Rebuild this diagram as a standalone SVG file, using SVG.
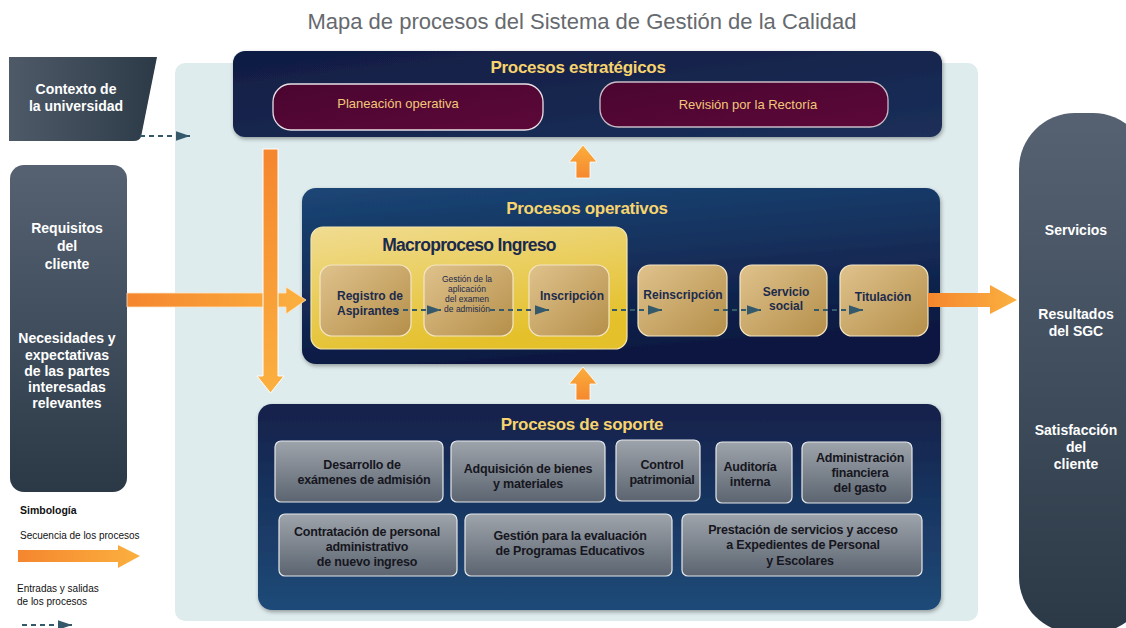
<svg xmlns="http://www.w3.org/2000/svg" width="1126" height="628" viewBox="0 0 1126 628">
<defs>
<linearGradient id="ctxG" x1="0" y1="0" x2="1" y2="0"><stop offset="0" stop-color="#4f5a68"/><stop offset="1" stop-color="#2c3a47"/></linearGradient>
<linearGradient id="sideG" x1="0" y1="0" x2="0" y2="1"><stop offset="0" stop-color="#566272"/><stop offset="1" stop-color="#2b3947"/></linearGradient>
<linearGradient id="stratG" x1="0" y1="0" x2="1" y2="1"><stop offset="0" stop-color="#101c42"/><stop offset="1" stop-color="#1b305a"/></linearGradient>
<linearGradient id="opG" x1="0" y1="0" x2="0.3" y2="1"><stop offset="0" stop-color="#1b4676"/><stop offset="1" stop-color="#0d1840"/></linearGradient>
<linearGradient id="supG" x1="0" y1="0" x2="0" y2="1"><stop offset="0" stop-color="#12214a"/><stop offset="1" stop-color="#1f4a78"/></linearGradient>
<linearGradient id="marG" x1="0" y1="0" x2="1" y2="1"><stop offset="0" stop-color="#4a0530"/><stop offset="1" stop-color="#5c0838"/></linearGradient>
<linearGradient id="macG" x1="0" y1="0" x2="0.4" y2="1"><stop offset="0" stop-color="#f0dc92"/><stop offset="1" stop-color="#e4c02a"/></linearGradient>
<linearGradient id="tanG" x1="0" y1="0" x2="1" y2="1"><stop offset="0" stop-color="#dfc28c"/><stop offset="1" stop-color="#b58f4a"/></linearGradient>
<linearGradient id="grayG" x1="0" y1="0" x2="0" y2="1"><stop offset="0" stop-color="#9ea4ab"/><stop offset="1" stop-color="#5b6470"/></linearGradient>
<linearGradient id="orH" x1="0" y1="0" x2="1" y2="0"><stop offset="0" stop-color="#f5862e"/><stop offset="1" stop-color="#fbb03f"/></linearGradient>
<linearGradient id="orV" x1="0" y1="0" x2="0" y2="1"><stop offset="0" stop-color="#f5862e"/><stop offset="1" stop-color="#fbb03f"/></linearGradient>
<linearGradient id="orUp" x1="0" y1="0" x2="0" y2="1"><stop offset="0" stop-color="#fbae3c"/><stop offset="1" stop-color="#f5882e"/></linearGradient>
<marker id="dh" viewBox="0 0 10 10" refX="10" refY="5" markerWidth="6.5" markerHeight="4.5" markerUnits="strokeWidth" orient="auto" preserveAspectRatio="none"><path d="M0,0 L10,5 L0,10 z" fill="#34596a"/></marker>
<filter id="sh" x="-5%" y="-10%" width="110%" height="125%"><feDropShadow dx="1" dy="2" stdDeviation="2" flood-color="#000" flood-opacity="0.35"/></filter>
<style>
text{font-family:"Liberation Sans",Arial,sans-serif;text-anchor:middle}
.wt{fill:#ffffff;font-weight:bold;font-size:14px}
.yt{fill:#f7d46e;font-weight:bold;font-size:17px;letter-spacing:-0.3px}
.mt{fill:#f2c878;font-size:13px}
.nt{fill:#1c2b4c;font-weight:bold;font-size:12px}
.st{fill:#16161e;font-weight:bold;font-size:12.5px;letter-spacing:-0.2px}
.sub{stroke:#f4e6c4;stroke-width:1.2}
.gb{fill:url(#grayG);stroke:#e6e8ea;stroke-width:1.2}
.dash{fill:none;stroke:#34596a;stroke-width:2.2;stroke-dasharray:5,4;marker-end:url(#dh)}
.lg{fill:#111;font-size:10px;text-anchor:start}
</style>
</defs>
<rect width="1126" height="628" fill="#ffffff"/>
<text x="582" y="29" style="font-size:22px;fill:#666a6e">Mapa de procesos del Sistema de Gestión de la Calidad</text>
<rect id="panel" x="175" y="63" width="803" height="558" rx="10" fill="#dfeced"/>

<g id="contexto">
<path d="M9,57 L157,57 L141,137 Q139,141 134,141 L9,141 Z" fill="url(#ctxG)"/>
<text class="wt" x="76" y="94">Contexto de</text>
<text class="wt" x="76" y="111">la universidad</text>
</g>

<g id="requisitos">
<rect x="10" y="165" width="117" height="327" rx="14" fill="url(#sideG)"/>
<text class="wt" x="67" y="233">Requisitos</text>
<text class="wt" x="67" y="251">del</text>
<text class="wt" x="67" y="269">cliente</text>
<text class="wt" x="67" y="343">Necesidades y</text>
<text class="wt" x="67" y="360">expectativas</text>
<text class="wt" x="67" y="376">de las partes</text>
<text class="wt" x="67" y="392">interesadas</text>
<text class="wt" x="67" y="408">relevantes</text>
</g>

<g id="resultados">
<rect x="1019" y="113" width="130" height="520" rx="56" fill="url(#sideG)"/>
<text class="wt" x="1076" y="235">Servicios</text>
<text class="wt" x="1076" y="319">Resultados</text>
<text class="wt" x="1076" y="336">del SGC</text>
<text class="wt" x="1076" y="435">Satisfacción</text>
<text class="wt" x="1076" y="452">del</text>
<text class="wt" x="1076" y="469">cliente</text>
</g>

<g id="estrategicos">
<rect x="233" y="51" width="709" height="86" rx="12" fill="url(#stratG)" filter="url(#sh)"/>
<text class="yt" x="578" y="73">Procesos estratégicos</text>
<g id="planeacion">
<rect x="273" y="84" width="270" height="46" rx="18" fill="url(#marG)" stroke="#e8e0e6" stroke-width="1.3"/>
<text class="mt" x="398" y="108">Planeación operativa</text>
</g>
<g id="revision">
<rect x="600" y="82" width="288" height="45" rx="18" fill="url(#marG)" stroke="#c8bcc6" stroke-width="1.3"/>
<text class="mt" x="748" y="109">Revisión por la Rectoría</text>
</g>
</g>

<g id="operativos">
<rect x="302" y="188" width="638" height="176" rx="14" fill="url(#opG)" filter="url(#sh)"/>
<text class="yt" x="587" y="214">Procesos operativos</text>
</g>

<g id="macroproceso">
<rect x="311" y="227" width="316" height="122" rx="12" fill="url(#macG)" stroke="#f3e6b0" stroke-width="1.2"/>
<text x="469" y="251" style="fill:#1c2b4c;font-weight:bold;font-size:17.5px;letter-spacing:-0.7px">Macroproceso Ingreso</text>
</g>
<g id="registro">
<rect class="sub" x="320" y="265" width="91" height="71" rx="12" fill="url(#tanG)"/>
<text class="nt" x="370" y="300">Registro  de</text>
<text class="nt" x="368" y="315">Aspirantes</text>
</g>
<g id="gestion">
<rect class="sub" x="424" y="265" width="89" height="71" rx="12" fill="url(#tanG)"/>
<text class="nt" x="467" y="282" style="font-size:8.5px;font-weight:normal">Gestión de la</text>
<text class="nt" x="467" y="292" style="font-size:8.5px;font-weight:normal">aplicación</text>
<text class="nt" x="467" y="302" style="font-size:8.5px;font-weight:normal">del examen</text>
<text class="nt" x="467" y="312" style="font-size:8.5px;font-weight:normal">de admisión</text>
</g>
<g id="inscripcion">
<rect class="sub" x="529" y="265" width="80" height="71" rx="12" fill="url(#tanG)"/>
<text class="nt" x="572" y="300">Inscripción</text>
</g>
<g id="reinscripcion">
<rect class="sub" x="638" y="265" width="89" height="71" rx="12" fill="url(#tanG)"/>
<text class="nt" x="683" y="299">Reinscripción</text>
</g>
<g id="servicio">
<rect class="sub" x="740" y="265" width="87" height="71" rx="12" fill="url(#tanG)"/>
<text class="nt" x="786" y="296">Servicio</text>
<text class="nt" x="786" y="310">social</text>
</g>
<g id="titulacion">
<rect class="sub" x="840" y="265" width="88" height="71" rx="12" fill="url(#tanG)"/>
<text class="nt" x="883" y="301">Titulación</text>
</g>

<g id="soporte">
<rect x="258" y="404" width="683" height="206" rx="14" fill="url(#supG)" filter="url(#sh)"/>
<text class="yt" x="582" y="430">Procesos de soporte</text>
<g id="s1"><rect class="gb" x="275" y="441" width="168" height="61" rx="6"/>
<text class="st" x="362" y="469">Desarrollo  de</text><text class="st" x="364" y="484">exámenes de admisión</text></g>
<g id="s2"><rect class="gb" x="451" y="441" width="154" height="61" rx="6"/>
<text class="st" x="528" y="473">Adquisición de bienes</text><text class="st" x="528" y="488">y materiales</text></g>
<g id="s3"><rect class="gb" x="616" y="440" width="84" height="61" rx="6"/>
<text class="st" x="662" y="469">Control</text><text class="st" x="662" y="484">patrimonial</text></g>
<g id="s4"><rect class="gb" x="716" y="442" width="76" height="61" rx="6"/>
<text class="st" x="750" y="471">Auditoría</text><text class="st" x="750" y="486">interna</text></g>
<g id="s5"><rect class="gb" x="802" y="442" width="110" height="61" rx="6"/>
<text class="st" x="860" y="462">Administración</text><text class="st" x="860" y="477">financiera</text><text class="st" x="860" y="492">del gasto</text></g>
<g id="s6"><rect class="gb" x="279" y="514" width="178" height="62" rx="6"/>
<text class="st" x="367" y="536">Contratación de personal</text><text class="st" x="367" y="551">administrativo</text><text class="st" x="367" y="566">de nuevo ingreso</text></g>
<g id="s7"><rect class="gb" x="465" y="514" width="207" height="62" rx="6"/>
<text class="st" x="570" y="540">Gestión para la evaluación</text><text class="st" x="570" y="555">de Programas Educativos</text></g>
<g id="s8"><rect class="gb" x="682" y="514" width="240" height="62" rx="6"/>
<text class="st" x="803" y="534">Prestación de servicios y acceso</text><text class="st" x="803" y="549">a Expedientes de Personal</text><text class="st" x="800" y="565">y Escolares</text></g>
</g>

<g id="conectores">
<path d="M140,136 H190" class="dash"/>
<path d="M127,293 H286 V287 L306,300 L286,314 V307 H127 Z" fill="url(#orH)" stroke="#fde6c8" stroke-width="0.8"/>
<path d="M263,149 H278 V376 H284 L270.5,393 L257,376 H263 Z" fill="url(#orV)" stroke="#ffffff" stroke-width="1"/>
<path d="M576,178 V162 H569 L583,145 L597,162 H590 V178 Z" fill="url(#orUp)" stroke="#ffffff" stroke-width="0.8"/>
<path d="M576,400 V384 H569 L583,367 L597,384 H590 V400 Z" fill="url(#orUp)" stroke="#ffffff" stroke-width="0.8"/>
<path d="M928,293 H990 V285 L1017,300 L990,314 V307 H928 Z" fill="url(#orH)"/>
<path d="M394,310 H441" class="dash"/>
<path d="M490,310 H549" class="dash"/>
<path d="M612,310 H662" class="dash"/>
<path d="M714,310 H761" class="dash"/>
<path d="M814,310 H863" class="dash"/>
</g>

<g id="simbologia">
<text class="lg" x="20" y="514" style="font-weight:bold;font-size:10.5px">Simbología</text>
<text class="lg" x="20" y="539">Secuencia de los procesos</text>
<path d="M18,550 H118 V545 L140,556 L118,568 V562 H18 Z" fill="url(#orH)"/>
<text class="lg" x="17" y="592">Entradas y salidas</text>
<text class="lg" x="17" y="605">de los procesos</text>
<path d="M22,625 H72" class="dash"/>
</g>
</svg>
